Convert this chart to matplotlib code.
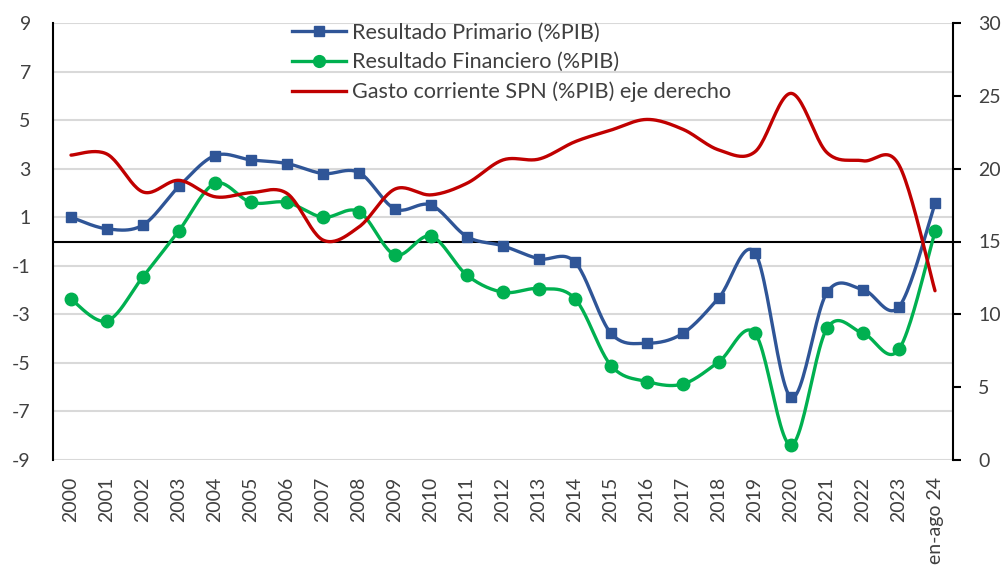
import numpy as np
import matplotlib
matplotlib.use("Agg")
import matplotlib.pyplot as plt
from matplotlib.lines import Line2D

plt.rcParams['font.family'] = ['Lato', 'DejaVu Sans']
plt.rcParams['axes.unicode_minus'] = False

categories = ["2000", "2001", "2002", "2003", "2004", "2005", "2006", "2007", "2008",
              "2009", "2010", "2011", "2012", "2013", "2014", "2015", "2016", "2017",
              "2018", "2019", "2020", "2021", "2022", "2023", "en-ago 24"]

primario = [1.00, 0.52, 0.68, 2.27, 3.54, 3.36, 3.21, 2.80, 2.84, 1.34, 1.50, 0.20,
            -0.18, -0.71, -0.85, -3.78, -4.19, -3.78, -2.31, -0.46, -6.42, -2.10,
            -1.98, -2.69, 1.57]
financiero = [-2.38, -3.27, -1.45, 0.45, 2.39, 1.61, 1.61, 1.00, 1.23, -0.55, 0.22,
              -1.39, -2.09, -1.94, -2.36, -5.11, -5.77, -5.87, -4.95, -3.78, -8.39,
              -3.58, -3.78, -4.44, 0.42]
gasto = [20.93, 21.00, 18.40, 19.20, 18.07, 18.35, 18.30, 15.10, 16.00, 18.60, 18.20,
         19.00, 20.60, 20.66, 21.85, 22.65, 23.38, 22.70, 21.28, 21.16, 25.17, 21.10,
         20.54, 20.25, 11.62]

left_ticks = [9, 7, 5, 3, 1, -1, -3, -5, -7, -9]
left_labels = ["9", "7", "5", "3", "1", "-1", "-3", "-5", "-7", "-9"]
right_ticks = [0, 5, 10, 15, 20, 25, 30]
right_labels = ["0", "5", "10", "15", "20", "25", "30"]

labels = ["Resultado Primario (%PIB)", "Resultado Financiero (%PIB)",
          "Gasto corriente SPN (%PIB) eje derecho"]

BLUE = "#2F5597"
GREEN = "#00B050"
RED = "#C00000"
TXT = "#404040"


def smooth(xs, ys, n=24):
    xs = np.asarray(xs, float)
    ys = np.asarray(ys, float)
    P = np.column_stack([xs, ys])
    out = [P[0]]
    m = len(P)
    t = np.linspace(0, 1, n + 1)[1:]
    for i in range(m - 1):
        p0 = P[i - 1] if i > 0 else P[i]
        p1 = P[i]
        p2 = P[i + 1]
        p3 = P[i + 2] if i + 2 < m else P[i + 1]
        c1 = p1 + (p2 - p0) / 6.0
        c2 = p2 - (p3 - p1) / 6.0
        for tt in t:
            b = ((1 - tt) ** 3) * p1 + 3 * ((1 - tt) ** 2) * tt * c1 + \
                3 * (1 - tt) * tt ** 2 * c2 + tt ** 3 * p2
            out.append(b)
    out = np.array(out)
    return out[:, 0], out[:, 1]


fig = plt.figure(figsize=(10.05, 5.71), dpi=100)
ax = fig.add_axes([53 / 1005, 1 - 460 / 571, 900 / 1005, 437 / 571])
ax2 = ax.twinx()

x = np.arange(len(categories))

ax.set_xlim(-0.5, len(categories) - 0.5)
ax.set_ylim(-9, 9)
ax2.set_ylim(0, 30)

for v in left_ticks:
    ax.axhline(v, color="#D9D9D9", lw=1.5, zorder=0)
ax.axhline(0, color="black", lw=1.5, zorder=1)

sx, sy = smooth(x, primario)
ax.plot(sx, sy, color=BLUE, lw=2.4, zorder=3, solid_capstyle='round')
ax.plot(x, primario, ls='none', marker='s', ms=7.5, color=BLUE, zorder=4)

sx, sy = smooth(x, financiero)
ax.plot(sx, sy, color=GREEN, lw=2.4, zorder=3, solid_capstyle='round')
ax.plot(x, financiero, ls='none', marker='o', ms=9, color=GREEN, zorder=4)

sx, sy = smooth(x, gasto)
ax2.plot(sx, sy, color=RED, lw=2.4, zorder=3, solid_capstyle='round')

ax.set_yticks(left_ticks)
ax.set_yticklabels(left_labels)
ax.tick_params(axis='y', length=0, pad=16, labelsize=14, labelcolor=TXT)
ax.set_xticks(x)
ax.set_xticklabels(categories, rotation=90)
ax.tick_params(axis='x', length=0, pad=12, labelsize=14, labelcolor=TXT)

ax2.set_yticks(right_ticks)
ax2.set_yticklabels(right_labels)
ax2.tick_params(axis='y', length=6, width=1.5, direction='out', pad=12,
                labelsize=14, labelcolor=TXT, color='black')

for a in (ax, ax2):
    a.spines['top'].set_visible(False)
    a.spines['bottom'].set_visible(False)
ax.spines['left'].set_linewidth(1.5)
ax.spines['right'].set_visible(False)
ax2.spines['left'].set_visible(False)
ax2.spines['right'].set_linewidth(1.5)

handles = [
    Line2D([], [], color=BLUE, lw=2.4, marker='s', ms=7),
    Line2D([], [], color=GREEN, lw=2.4, marker='o', ms=8.5),
    Line2D([], [], color=RED, lw=2.4),
]
leg = ax2.legend(handles, labels, loc='upper left',
                 bbox_to_anchor=(239 / 900, 1.0),
                 frameon=False, fontsize=15.6, handlelength=2.5, handletextpad=0.28,
                 labelspacing=0.43, borderaxespad=0, borderpad=0)
for t in leg.get_texts():
    t.set_color(TXT)

fig.savefig("out.png", dpi=100)
